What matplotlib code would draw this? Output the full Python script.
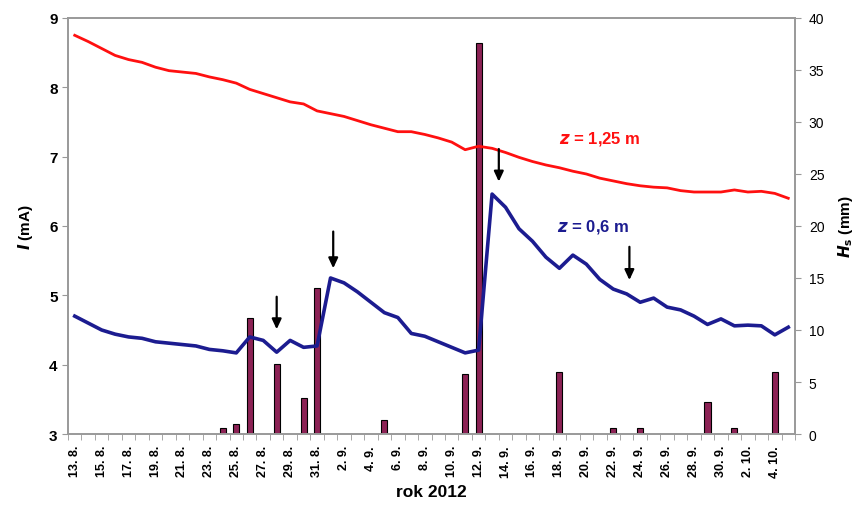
import numpy as np
import matplotlib
matplotlib.use("Agg")
import matplotlib.pyplot as plt

plt.rcParams['font.family'] = ['Liberation Sans', 'DejaVu Sans']

# daily values, 13. 8. 2012 .. 5. 10. 2012
i_125 = [8.75, 8.66, 8.56, 8.46, 8.40, 8.36, 8.29, 8.24, 8.22, 8.20,
         8.15, 8.11, 8.06, 7.97, 7.91, 7.85, 7.79, 7.76, 7.66, 7.62,
         7.58, 7.52, 7.46, 7.41, 7.36, 7.36, 7.32, 7.27, 7.21, 7.10,
         7.15, 7.12, 7.06, 6.99, 6.93, 6.88, 6.84, 6.79, 6.75, 6.69,
         6.65, 6.61, 6.58, 6.56, 6.55, 6.51, 6.49, 6.49, 6.49, 6.52,
         6.49, 6.50, 6.47, 6.40]
i_06 = [4.70, 4.60, 4.50, 4.44, 4.40, 4.38, 4.33, 4.31, 4.29, 4.27,
        4.22, 4.20, 4.17, 4.40, 4.35, 4.18, 4.35, 4.25, 4.27, 5.25,
        5.18, 5.05, 4.90, 4.75, 4.68, 4.45, 4.41, 4.33, 4.25, 4.17,
        4.21, 6.46, 6.27, 5.96, 5.78, 5.55, 5.39, 5.58, 5.45, 5.23,
        5.09, 5.02, 4.90, 4.96, 4.83, 4.79, 4.70, 4.58, 4.66, 4.56,
        4.57, 4.56, 4.43, 4.54]
hs = [0, 0, 0, 0, 0, 0, 0, 0, 0, 0,
      0, 0.6, 1.0, 11.2, 0, 6.7, 0, 3.5, 14.0, 0,
      0, 0, 0, 1.3, 0, 0, 0, 0, 0, 5.8,
      37.6, 0, 0, 0, 0, 0, 6.0, 0, 0, 0,
      0.6, 0, 0.6, 0, 0, 0, 0, 3.1, 0, 0.6,
      0, 0, 6.0, 0]
tick_labels = ['13. 8.', '15. 8.', '17. 8.', '19. 8.', '21. 8.', '23. 8.',
               '25. 8.', '27. 8.', '29. 8.', '31. 8.', '2. 9.', '4. 9.',
               '6. 9.', '8. 9.', '10. 9.', '12. 9.', '14. 9.', '16. 9.',
               '18. 9.', '20. 9.', '22. 9.', '24. 9.', '26. 9.', '28. 9.',
               '30. 9.', '2. 10.', '4. 10.']
# arrows: (day index, y start, y end) in mA
arrows = [(15, 5.02, 4.47), (19.2, 5.96, 5.35), (31.5, 7.15, 6.60), (41.2, 5.74, 5.18)]

x = np.arange(len(i_125))
grey = '#999999'

fig = plt.figure(figsize=(8.63, 5.06), dpi=100)
ax = fig.add_axes([0.0788, 0.1403, 0.8424, 0.8222])
ax2 = ax.twinx()

ax2.bar(x, hs, width=0.45, color='#8c2255', edgecolor='black', linewidth=0.8)
ax2.set_ylim(0, 40)
ax2.set_yticks(range(0, 41, 5))
ax2.set_ylabel('$\\mathbfit{H}_\\mathbf{s}$ (mm)', fontsize=11, fontweight='bold', labelpad=8)
ax2.tick_params(axis='y', labelsize=10, length=4, color=grey, pad=6)

ax.set_zorder(ax2.get_zorder() + 1)
ax.patch.set_visible(False)
ax.plot(x, i_125, color='#ff1010', lw=2)
ax.plot(x, i_06, color='#1c1c90', lw=2.6)
for xa, y0, y1 in arrows:
    ax.annotate('', xy=(xa, y1), xytext=(xa, y0),
                arrowprops=dict(arrowstyle='-|>,head_width=0.28,head_length=0.6',
                                color='black', lw=1.6))

ax.text(0.675, 0.70, '$\\mathbfit{z}$ = 1,25 m', transform=ax.transAxes,
        color='#ff1010', fontsize=12, fontweight='bold')
ax.text(0.672, 0.49, '$\\mathbfit{z}$ = 0,6 m', transform=ax.transAxes,
        color='#1c1c90', fontsize=12, fontweight='bold')

ax.set_ylim(3, 9)
ax.set_xlim(-0.5, len(x) - 0.5)
ax.set_yticks(range(3, 10))
ax.tick_params(axis='y', labelsize=11, length=4, color=grey)
for t in ax.get_yticklabels():
    t.set_fontweight('bold')
ax.set_ylabel('$\\mathbfit{I}$ (mA)', fontsize=11, fontweight='bold', labelpad=10)

ax.set_xticks(x[:len(tick_labels) * 2:2])
ax.set_xticklabels(tick_labels, rotation=90, fontsize=9, fontweight='bold')
ax.set_xticks(np.arange(-0.5, len(x), 1), minor=True)
ax.tick_params(axis='x', which='major', length=0, pad=8)
ax.tick_params(axis='x', which='minor', length=4, color=grey)
ax.set_xlabel('rok 2012', fontsize=12.5, fontweight='bold', labelpad=5)

for a in (ax, ax2):
    for s in a.spines.values():
        s.set_color(grey)
        s.set_linewidth(1.2)

fig.savefig('out.png', dpi=100)
